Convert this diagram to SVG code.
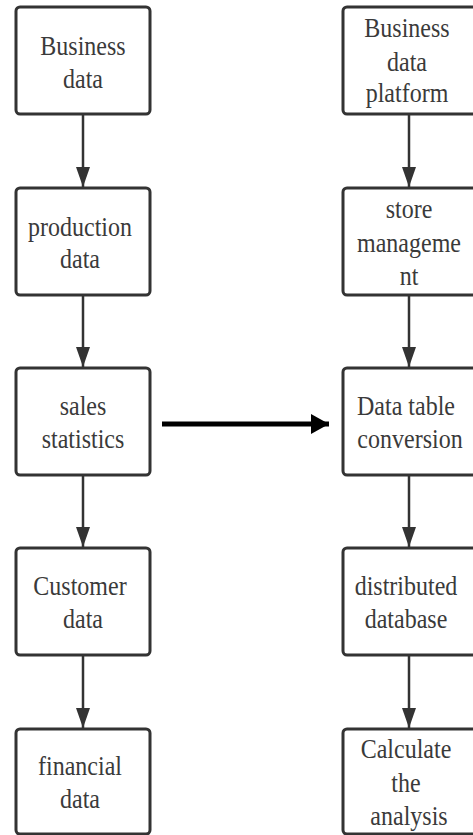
<svg xmlns="http://www.w3.org/2000/svg" width="473" height="835" viewBox="0 0 473 835">
<defs>
<marker id="ah" markerUnits="userSpaceOnUse" markerWidth="20" markerHeight="14" refX="20" refY="7" orient="auto" viewBox="0 0 20 14">
<path d="M0,0 L20,7 L0,14 Z" fill="#333"/>
</marker>
<marker id="ahb" markerUnits="userSpaceOnUse" markerWidth="18" markerHeight="20" refX="18" refY="10" orient="auto" viewBox="0 0 18 20">
<path d="M0,0 L18,10 L0,20 Z" fill="#000"/>
</marker>
<style>
.box{fill:#fff;stroke:#333;stroke-width:3}
.t{font-family:"Liberation Serif","DejaVu Serif",serif;font-size:24px;fill:#3a3a3a;text-anchor:middle}
.c{stroke:#333;stroke-width:2.5;fill:none}
</style>
</defs>
<rect width="473" height="835" fill="#fff"/>
<g id="connectors">
<line class="c" x1="83" y1="114" x2="83" y2="187" marker-end="url(#ah)"/>
<line class="c" x1="83" y1="295" x2="83" y2="367" marker-end="url(#ah)"/>
<line class="c" x1="83" y1="475" x2="83" y2="547" marker-end="url(#ah)"/>
<line class="c" x1="83" y1="655" x2="83" y2="728" marker-end="url(#ah)"/>
<line class="c" x1="409" y1="114" x2="409" y2="187" marker-end="url(#ah)"/>
<line class="c" x1="409" y1="295" x2="409" y2="367" marker-end="url(#ah)"/>
<line class="c" x1="409" y1="475" x2="409" y2="547" marker-end="url(#ah)"/>
<line class="c" x1="409" y1="655" x2="409" y2="728" marker-end="url(#ah)"/>
<line x1="162" y1="424" x2="329" y2="424" stroke="#000" stroke-width="5" marker-end="url(#ahb)"/>
</g>
<g id="n1">
<rect class="box" x="16" y="7" width="134" height="107" rx="4"/>
<text class="t" transform="translate(83,55) scale(1,1.15)">Business</text>
<text class="t" transform="translate(83,88) scale(1,1.15)">data</text>
</g>
<g id="n2">
<rect class="box" x="16" y="188" width="134" height="107" rx="4"/>
<text class="t" transform="translate(80,236) scale(1,1.15)">production</text>
<text class="t" transform="translate(80,268) scale(1,1.15)">data</text>
</g>
<g id="n3">
<rect class="box" x="16" y="368" width="134" height="107" rx="4"/>
<text class="t" transform="translate(83,415) scale(1,1.15)">sales</text>
<text class="t" transform="translate(83,448) scale(1,1.15)">statistics</text>
</g>
<g id="n4">
<rect class="box" x="16" y="548" width="134" height="107" rx="4"/>
<text class="t" transform="translate(80,595) scale(1,1.15)">Customer</text>
<text class="t" transform="translate(83,628) scale(1,1.15)">data</text>
</g>
<g id="n5">
<rect class="box" x="16" y="729" width="134" height="105" rx="4"/>
<text class="t" transform="translate(80,775) scale(1,1.15)">financial</text>
<text class="t" transform="translate(80,808) scale(1,1.15)">data</text>
</g>
<g id="m1">
<rect class="box" x="343" y="7" width="136" height="107" rx="4"/>
<text class="t" transform="translate(407,37) scale(1,1.15)">Business</text>
<text class="t" transform="translate(407,71) scale(1,1.15)">data</text>
<text class="t" transform="translate(407,102) scale(1,1.15)">platform</text>
</g>
<g id="m2">
<rect class="box" x="343" y="188" width="136" height="107" rx="4"/>
<text class="t" transform="translate(409,218) scale(1,1.15)">store</text>
<text class="t" transform="translate(409,252) scale(1,1.15)">manageme</text>
<text class="t" transform="translate(409,285) scale(1,1.15)">nt</text>
</g>
<g id="m3">
<rect class="box" x="343" y="368" width="136" height="107" rx="4"/>
<text class="t" transform="translate(406,415) scale(1,1.15)">Data table</text>
<text class="t" transform="translate(410,448) scale(1,1.15)">conversion</text>
</g>
<g id="m4">
<rect class="box" x="343" y="548" width="136" height="107" rx="4"/>
<text class="t" transform="translate(406,595) scale(1,1.15)">distributed</text>
<text class="t" transform="translate(406,628) scale(1,1.15)">database</text>
</g>
<g id="m5">
<rect class="box" x="343" y="729" width="136" height="105" rx="4"/>
<text class="t" transform="translate(406,758) scale(1,1.15)">Calculate</text>
<text class="t" transform="translate(406,792) scale(1,1.15)">the</text>
<text class="t" transform="translate(409,825) scale(1,1.15)">analysis</text>
</g>
</svg>
